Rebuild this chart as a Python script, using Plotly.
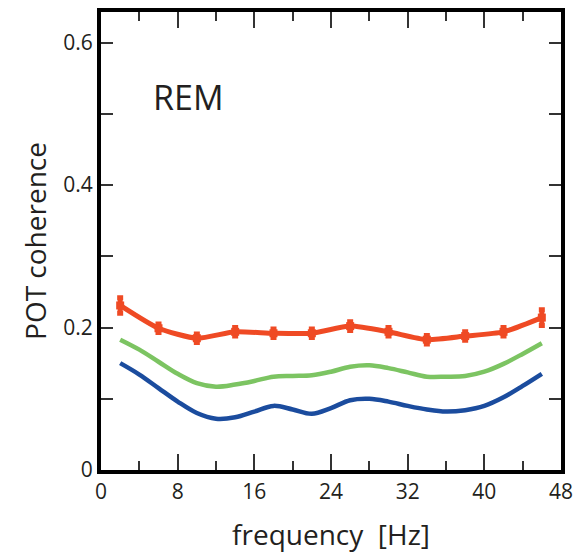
import plotly.graph_objects as go

# POT coherence during REM, three conditions
freq_red = [2, 6, 10, 14, 18, 22, 26, 30, 34, 38, 42, 46]
coh_red = [0.231, 0.199, 0.185, 0.194, 0.192, 0.192, 0.202, 0.194, 0.183, 0.188, 0.194, 0.214]
err_red = [0.011, 0.006, 0.006, 0.006, 0.006, 0.006, 0.006, 0.006, 0.006, 0.006, 0.006, 0.011]

freq = [2, 4, 6, 8, 10, 12, 14, 16, 18, 20, 22, 24, 26, 28, 30, 32, 34, 36, 38, 40, 42, 44, 46]
coh_green = [0.183, 0.169, 0.152, 0.135, 0.122, 0.117, 0.120, 0.125, 0.131, 0.132, 0.133, 0.138,
             0.145, 0.147, 0.143, 0.137, 0.131, 0.131, 0.132, 0.138, 0.149, 0.163, 0.178]
coh_blue = [0.150, 0.134, 0.115, 0.096, 0.080, 0.072, 0.074, 0.082, 0.090, 0.085, 0.079, 0.087,
            0.098, 0.100, 0.096, 0.090, 0.085, 0.082, 0.084, 0.090, 0.102, 0.118, 0.135]

RED = "#EF4A24"
GREEN = "#7CC462"
BLUE = "#1B4C9E"
FONT = "Open Sans"
INK = "#231F20"

fig = go.Figure()
fig.add_trace(go.Scatter(x=freq, y=coh_blue, mode="lines",
                         line=dict(color=BLUE, width=4.5, shape="spline", smoothing=1.0)))
fig.add_trace(go.Scatter(x=freq, y=coh_green, mode="lines",
                         line=dict(color=GREEN, width=4.5, shape="spline", smoothing=1.0)))
fig.add_trace(go.Scatter(
    x=freq_red, y=coh_red, mode="lines+markers",
    line=dict(color=RED, width=5, shape="spline", smoothing=0.6),
    marker=dict(symbol="square", size=8, color=RED),
    error_y=dict(type="data", array=err_red, color=RED, thickness=5, width=3),
))

fig.add_annotation(x=0.19, y=0.815, xref="paper", yref="paper", text="REM", showarrow=False,
                   xanchor="center", yanchor="middle",
                   font=dict(family=FONT, size=34, color=INK))

axis_common = dict(
    showline=True, linewidth=4, linecolor="black", mirror="allticks",
    ticks="inside", tickcolor="#333", tickwidth=1.5,
    showgrid=False, zeroline=False, automargin=False,
    tickfont=dict(family=FONT, size=21, color=INK),
)

fig.update_xaxes(
    range=[0, 48], tickvals=[0, 8, 16, 24, 32, 40, 48], ticklen=16,
    minor=dict(tickvals=[4, 12, 20, 28, 36, 44], ticks="inside", ticklen=9, tickcolor="#333", tickwidth=1.5),
    title=dict(text="frequency  [Hz]", font=dict(family=FONT, size=28, color=INK), standoff=22),
    **axis_common,
)
fig.update_yaxes(
    range=[0, 0.643], tickvals=[0, 0.2, 0.4, 0.6], ticktext=["0", "0.2", "0.4", "0.6"], ticklen=12,
    minor=dict(tickvals=[0.1, 0.3, 0.5], ticks="inside", ticklen=12, tickcolor="#333", tickwidth=1.5),
    title=dict(text="POT coherence", font=dict(family=FONT, size=28, color=INK), standoff=9),
    **axis_common,
)

fig.update_layout(
    width=581, height=554,
    margin=dict(l=93, r=28, t=4, b=92),
    paper_bgcolor="white", plot_bgcolor="white",
    showlegend=False,
)

fig.write_html("out.html")
